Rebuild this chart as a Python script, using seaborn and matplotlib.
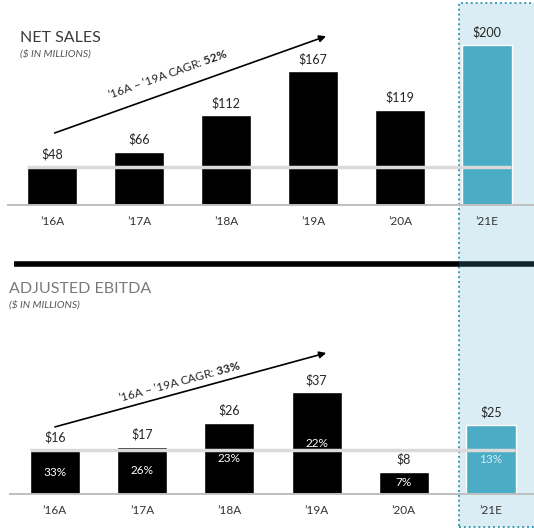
import numpy as np
import pandas as pd
import matplotlib
matplotlib.use("Agg")
import matplotlib.pyplot as plt
import seaborn as sns
from matplotlib.patches import Rectangle
from matplotlib.lines import Line2D

# chart data
years = ["\u201916A", "\u201917A", "\u201918A", "\u201919A", "\u201920A", "\u201921E"]
net_sales = [48, 66, 112, 167, 119, 200]
ebitda = [16, 17, 26, 37, 8, 25]
ebitda_margin = [33, 26, 23, 22, 7, 13]
sales_cagr = 52
ebitda_cagr = 33

bar_colors = ["#000000"] * 5 + ["#4bacc6"]
W, H = 534, 529

sns.set_style("white")
plt.rcParams["font.family"] = ["Lato", "DejaVu Sans"]
plt.rcParams["mathtext.fontset"] = "custom"
plt.rcParams["mathtext.rm"] = "Lato"
plt.rcParams["mathtext.bf"] = "Lato:bold"

fig = plt.figure(figsize=(W / 100, H / 100), dpi=100)

# highlighted forecast column
shade = Rectangle((459 / W, 2 / H), 0.2, (526 - 2) / H, transform=fig.transFigure,
                  facecolor="#daedf4", edgecolor="#3a9db5", linestyle=(0, (1, 1.5)),
                  linewidth=1.4, zorder=-5)
fig.add_artist(shade)


def px_axes(left, top, right, bottom):
    ax = fig.add_axes([left / W, 1 - bottom / H, (right - left) / W, (bottom - top) / H])
    ax.patch.set_alpha(0)
    return ax


def draw_panel(ax, values, ylim, xlim, margins=None):
    df = pd.DataFrame({"year": years, "value": values})
    sns.barplot(data=df, x="year", y="value", hue="year", palette=bar_colors,
                width=0.575, saturation=1, legend=False, ax=ax, zorder=2)
    ax.set_ylim(*ylim)
    ax.set_xlim(*xlim)
    for s in ["top", "right", "left"]:
        ax.spines[s].set_visible(False)
    ax.spines["bottom"].set_color("#bfbfbf")
    ax.spines["bottom"].set_linewidth(1.4)
    ax.set_xlabel("")
    ax.set_ylabel("")
    ax.set_yticks([])
    ax.tick_params(axis="x", length=0, pad=8, labelsize=8.5, labelcolor="#333333")
    # light reference line at the first year's level
    ax.hlines(values[0], -0.29, 5.27, color="#dadada", lw=2.5, zorder=3)
    for i, v in enumerate(values):
        ax.annotate(f"${v}", (i, v), xytext=(0, 4.5), textcoords="offset points",
                    ha="center", va="bottom", fontsize=9, color="#262626")
    if margins is not None:
        for i, (v, m) in enumerate(zip(values, margins)):
            col = "#d4ecf3" if i == 5 else "white"
            ax.text(i, v / 2, f"{m}%", ha="center", va="center", fontsize=8.5,
                    color=col, zorder=4)


def cagr_arrow(ax, start, end, label_pos, cagr):
    ax.annotate("", xy=end, xytext=start,
                arrowprops=dict(arrowstyle="-|>", color="black", lw=1.2,
                                mutation_scale=10, shrinkA=0, shrinkB=0))
    p1 = ax.transData.transform(start)
    p2 = ax.transData.transform(end)
    angle = np.degrees(np.arctan2(p2[1] - p1[1], p2[0] - p1[0]))
    ax.text(*label_pos, f"\u201916A \u2013 \u201919A CAGR: $\\mathbf{{{cagr}\\%}}$",
            rotation=angle, rotation_mode="anchor", ha="center", va="center",
            fontsize=8.5, color="#262626")


# top panel: net sales
ax1 = px_axes(8, 0, W, 205)
draw_panel(ax1, net_sales, (0, 205 / 0.8), (-0.506, 5.54))
cagr_arrow(ax1, (0.03, 90), (3.15, 211), (1.33, 164), sales_cagr)

# bottom panel: adjusted EBITDA
ax2 = px_axes(10, 290, W, 494)
draw_panel(ax2, ebitda, (0, 204 / 2.75), (-0.516, 5.493), margins=ebitda_margin)
cagr_arrow(ax2, (0.0, 24.4), (3.11, 51.3), (1.43, 41.1), ebitda_cagr)

# separator bar
fig.add_artist(Line2D([14 / W, 459 / W], [1 - 263.5 / H] * 2, color="black", lw=4,
                      transform=fig.transFigure, solid_capstyle="butt"))
fig.add_artist(Line2D([459 / W, 1.0], [1 - 263.5 / H] * 2, color="#10262e", lw=4,
                      transform=fig.transFigure, solid_capstyle="butt"))

# titles
fig.text(20 / W, 1 - 38.5 / H, "NET SALES", fontsize=11.5, color="#3a3a3a",
         va="center", ha="left")
fig.text(20 / W, 1 - 54 / H, "($ IN MILLIONS)", fontsize=7.5, color="#555555",
         style="italic", va="center", ha="left")
fig.text(9 / W, 1 - 289 / H, "ADJUSTED EBITDA", fontsize=11.5, color="#7a7a7a",
         va="center", ha="left")
fig.text(9 / W, 1 - 305 / H, "($ IN MILLIONS)", fontsize=7.5, color="#555555",
         style="italic", va="center", ha="left")

fig.savefig("out.png", dpi=100)
